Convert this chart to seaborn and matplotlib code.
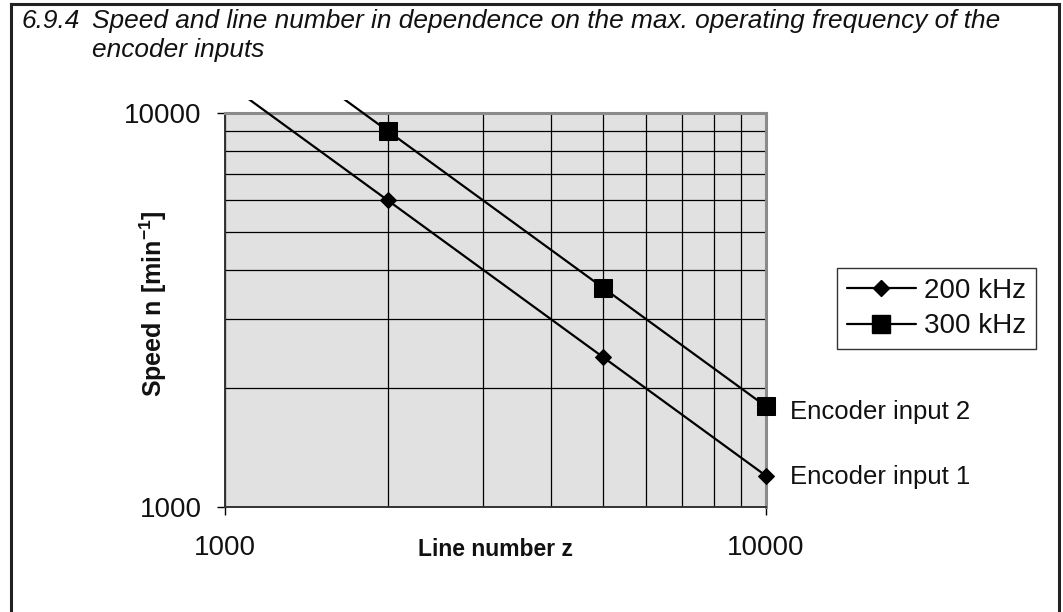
import numpy as np
import pandas as pd
import matplotlib
matplotlib.use("Agg")
import matplotlib.pyplot as plt
import seaborn as sns
from matplotlib import font_manager as fm
from matplotlib.patches import Rectangle
from matplotlib.lines import Line2D
from matplotlib.ticker import FixedLocator, FixedFormatter, NullFormatter

# ---------------- data ----------------
line_numbers = [1000, 2000, 5000, 10000]
speed_200khz = [12000, 6000, 2400, 1200]
speed_300khz = [18000, 9000, 3600, 1800]
series_labels = ["200 kHz", "300 kHz"]
end_labels = ["Encoder input 1", "Encoder input 2"]
x_tick_values = [1000, 10000]
x_tick_labels = ["1000", "10000"]
y_tick_values = [1000, 10000]
y_tick_labels = ["1000", "10000"]
title_number = "6.9.4"
title_line1 = "Speed and line number in dependence on the max. operating frequency of the"
title_line2 = "encoder inputs"
x_label = "Line number z"
y_label = r"Speed n [min$^{\mathregular{-1}}$]"

df = pd.DataFrame({
    "z": line_numbers * 2,
    "n": speed_200khz + speed_300khz,
    "freq": [series_labels[0]] * len(line_numbers) + [series_labels[1]] * len(line_numbers),
})

# ---------------- style ----------------
sns.set_style("white")
plt.rcParams["font.family"] = ["Liberation Sans", "DejaVu Sans"]
plt.rcParams["mathtext.fontset"] = "custom"
plt.rcParams["mathtext.rm"] = "Liberation Sans"
plt.rcParams["mathtext.bf"] = "Liberation Sans:bold"

names = {f.name for f in fm.fontManager.ttflist}
title_family = ["Liberation Sans Narrow", "Liberation Sans"] if "Liberation Sans Narrow" in names else ["Liberation Sans"]

W, H = 1063, 612
fig = plt.figure(figsize=(W / 100, H / 100), dpi=100)
fig.patch.set_facecolor("white")

ax_l, ax_r, ax_t, ax_b = 225, 766, 113, 507
ax = fig.add_axes([ax_l / W, 1 - ax_b / H, (ax_r - ax_l) / W, (ax_b - ax_t) / H])
ax.set_facecolor("#e1e1e1")

sub = df[df["freq"] == series_labels[0]]
sns.lineplot(data=sub, x="z", y="n", ax=ax, color="black", lw=1.6,
             marker="D", markersize=8.5, markeredgecolor="black",
             markerfacecolor="black", estimator=None, legend=False)
sub = df[df["freq"] == series_labels[1]]
sns.lineplot(data=sub, x="z", y="n", ax=ax, color="black", lw=1.6,
             marker="s", markersize=12.5, markeredgecolor="black",
             markerfacecolor="black", estimator=None, legend=False)

ax.set_xscale("log")
ax.set_yscale("log")
ax.set_xlim(1000, 10000)
ax.set_ylim(1000, 10000)

# lines are clipped slightly above the plot area (as in the reference)
clip = Rectangle((-0.05, -0.05), 1.1, 1.084, transform=ax.transAxes,
                 facecolor="none", edgecolor="none")
for ln in ax.lines:
    ln.set_clip_path(clip)
    ln.set_zorder(5)

ax.xaxis.set_major_locator(FixedLocator(x_tick_values))
ax.xaxis.set_major_formatter(FixedFormatter(x_tick_labels))
ax.yaxis.set_major_locator(FixedLocator(y_tick_values))
ax.yaxis.set_major_formatter(FixedFormatter(y_tick_labels))
ax.xaxis.set_minor_formatter(NullFormatter())
ax.yaxis.set_minor_formatter(NullFormatter())

ax.set_axisbelow(True)
ax.grid(True, which="both", color="black", lw=0.9)

ax.tick_params(axis="both", which="major", direction="out", length=6, width=1,
               color="black", labelsize=20, labelcolor="#111111", bottom=True, left=True)
ax.tick_params(axis="x", which="major", pad=14)
ax.tick_params(axis="y", which="major", pad=11)
ax.tick_params(axis="both", which="minor", length=0)

for s in ["top", "right"]:
    ax.spines[s].set_color("#8a8a8a")
    ax.spines[s].set_linewidth(2.2)
for s in ["left", "bottom"]:
    ax.spines[s].set_color("#333333")
    ax.spines[s].set_linewidth(1.4)

ax.set_xlabel(x_label, fontsize=16.5, fontweight="bold", color="#111111")
ax.xaxis.set_label_coords(0.5, -0.109)
ax.xaxis.label.set_va("center")
ax.set_ylabel(y_label, fontsize=18, fontweight="bold", color="#111111")
ax.yaxis.set_label_coords(-0.133, 0.515)
ax.yaxis.label.set_va("center")

# legend
handles = [
    Line2D([], [], color="black", lw=1.6, marker="D", markersize=8.5),
    Line2D([], [], color="black", lw=1.6, marker="s", markersize=12.5),
]
leg = ax.legend(handles, series_labels, loc="upper left",
                bbox_to_anchor=((837 - ax_l) / (ax_r - ax_l), (ax_b - 268) / (ax_b - ax_t)),
                fontsize=20, frameon=True, fancybox=False, shadow=False,
                handlelength=2.5, handletextpad=0.3, labelspacing=0.35,
                borderpad=0.35, borderaxespad=0.0)
leg.get_frame().set_edgecolor("black")
leg.get_frame().set_linewidth(1.0)
for t in leg.get_texts():
    t.set_color("#111111")

# end labels
ax.annotate(end_labels[0], xy=(line_numbers[-1], speed_200khz[-1]), xytext=(17, -1),
            textcoords="offset points", fontsize=18.5, va="center", ha="left",
            color="#111111", annotation_clip=False)
ax.annotate(end_labels[1], xy=(line_numbers[-1], speed_300khz[-1]), xytext=(17, -4),
            textcoords="offset points", fontsize=18.5, va="center", ha="left",
            color="#111111", annotation_clip=False)

# title (two lines, italic): "6.9.4" then the heading, fitted to the reference width
base = 15
tn = fig.text(22 / W, 1 - 28 / H, title_number, fontsize=base, style="italic",
              family=title_family, color="#111111", va="baseline", ha="left")
t1 = fig.text(48 / W, 1 - 28 / H, title_line1, fontsize=base, style="italic",
              family=title_family, color="#111111", va="baseline", ha="left")
fig.canvas.draw()
a = tn.get_window_extent().width
b = t1.get_window_extent().width
gap = 12
size = base * (1000 - 22 - gap) / (a + b)
tn.set_fontsize(size)
t1.set_fontsize(size)
x_head = 22 + a * size / base + gap
t1.set_x(x_head / W)
fig.text(x_head / W, 1 - 57 / H, title_line2, fontsize=size, style="italic",
         family=title_family, color="#111111", va="baseline", ha="left")

# outer frame (open at bottom)
frame_kw = dict(color="#222222", lw=2.2, transform=fig.transFigure, solid_capstyle="projecting")
fig.add_artist(Line2D([11 / W, 11 / W], [0, 1 - 4 / H], **frame_kw))
fig.add_artist(Line2D([11 / W, 1059 / W], [1 - 4 / H, 1 - 4 / H], **frame_kw))
fig.add_artist(Line2D([1059 / W, 1059 / W], [1 - 4 / H, 0], **frame_kw))

fig.savefig("out.png", dpi=100)
